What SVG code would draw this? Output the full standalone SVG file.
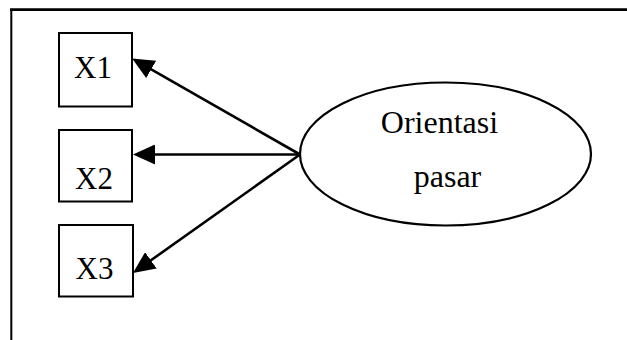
<svg xmlns="http://www.w3.org/2000/svg" width="627" height="340" viewBox="0 0 627 340">
  <style>
    .box { fill: #ffffff; stroke: #000000; stroke-width: 2; }
    .oval { fill: #ffffff; stroke: #000000; stroke-width: 2.2; }
    .lbl { font-family: "Liberation Serif", "Times New Roman", serif; font-size: 31px; fill: #000000; text-anchor: middle; }
    .olbl { font-family: "Liberation Serif", "Times New Roman", serif; font-size: 32px; fill: #000000; text-anchor: middle; }
    .edge { stroke: #000000; stroke-width: 2.6; fill: none; marker-end: url(#head); }
    .frame { stroke: #000000; fill: none; }
  </style>
  <defs>
    <marker id="head" markerUnits="userSpaceOnUse" viewBox="0 0 22 20" refX="6" refY="10" markerWidth="22" markerHeight="20" orient="auto">
      <path d="M0,0 L22,10 L0,20 Z" fill="#000000"/>
    </marker>
  </defs>

  <rect width="627" height="340" fill="#ffffff"/>

  <!-- outer frame: heavy top rule and thin left rule -->
  <line class="frame" x1="10" y1="9.7" x2="627" y2="9.7" stroke-width="2.8"/>
  <line class="frame" x1="11.3" y1="9" x2="11.3" y2="340" stroke-width="2"/>

  <g id="node-x1">
    <rect class="box" x="59" y="33" width="73" height="73.5"/>
    <text class="lbl" x="93" y="78">X1</text>
  </g>
  <g id="node-x2">
    <rect class="box" x="59" y="130" width="73" height="71.5"/>
    <text class="lbl" x="94" y="188.5">X2</text>
  </g>
  <g id="node-x3">
    <rect class="box" x="59" y="225" width="74" height="71.5"/>
    <text class="lbl" x="94.5" y="278.5">X3</text>
  </g>
  <g id="node-orientasi-pasar">
    <ellipse class="oval" cx="445.5" cy="154" rx="145.5" ry="71.5"/>
    <text class="olbl" x="439.5" y="133">Orientasi</text>
    <text class="olbl" x="447.5" y="187">pasar</text>
  </g>

  <g id="connectors">
    <line class="edge" x1="300" y1="154.5" x2="146" y2="66.4"/>
    <line class="edge" x1="300" y1="154.5" x2="149" y2="154.5"/>
    <line class="edge" x1="300" y1="154.5" x2="146" y2="263.8"/>
  </g>
</svg>
